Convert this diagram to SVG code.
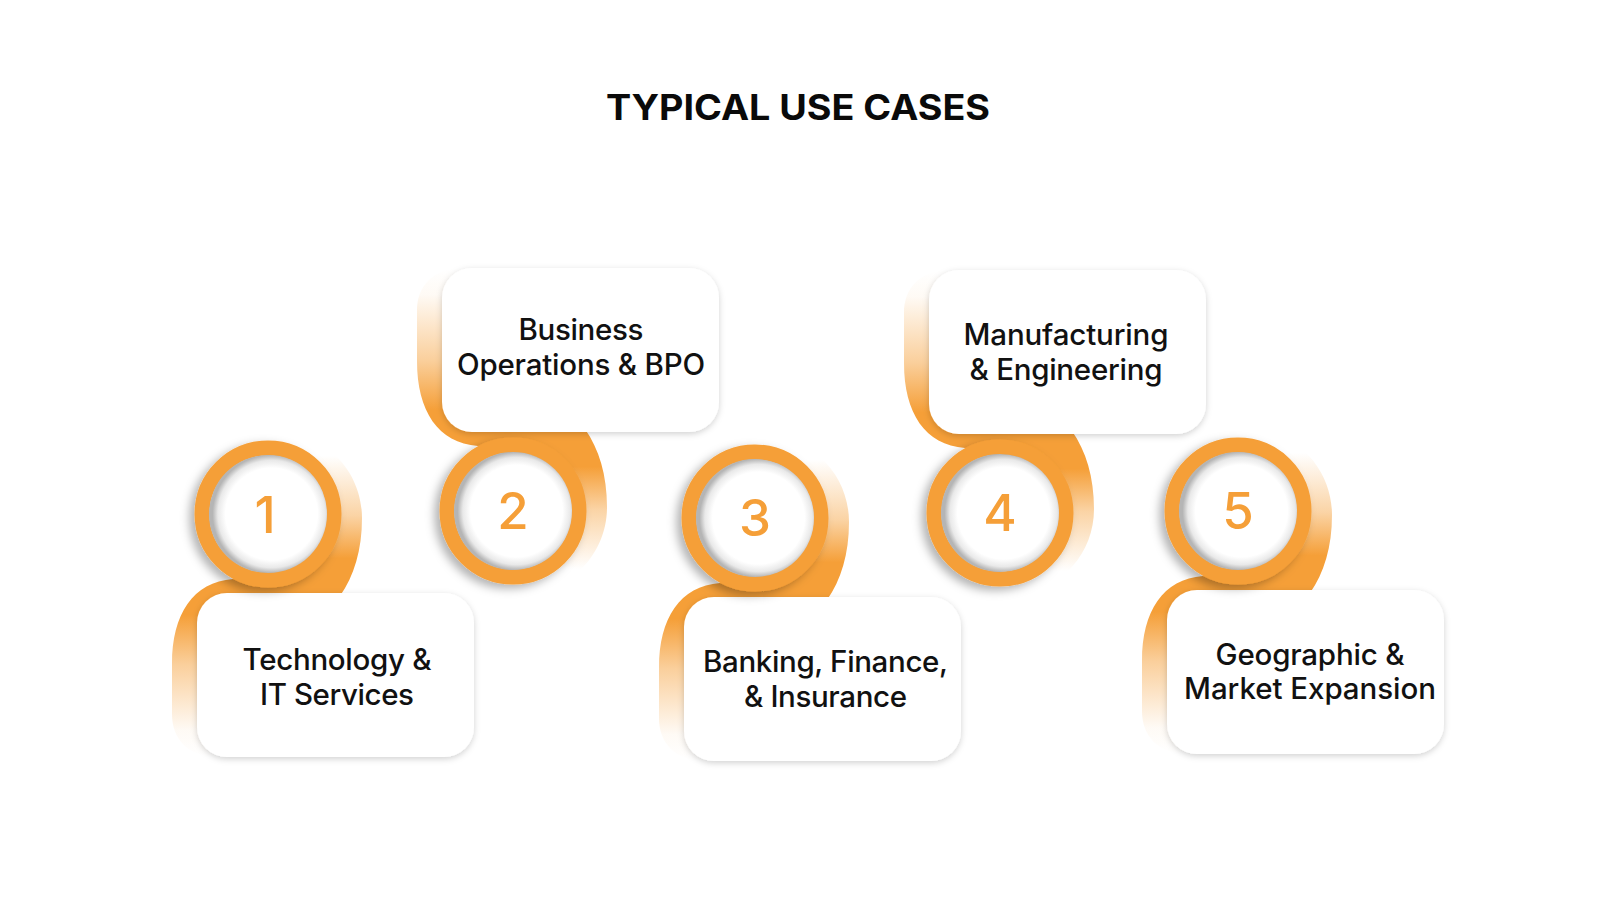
<svg xmlns="http://www.w3.org/2000/svg" width="1600" height="900" viewBox="0 0 1600 900">
<style>
.title{font-family:Inter,"Liberation Sans",sans-serif;font-weight:700;font-size:35px;fill:#0a0a0a}
.lbl{font-family:Inter,"Liberation Sans",sans-serif;font-weight:500;font-size:29.5px;fill:#111}
.num{font-family:Inter,"Liberation Sans",sans-serif;font-weight:500;font-size:51px;fill:#F59F38}
.card{fill:#fff;filter:url(#cardShadow)}
.ring{fill:none;stroke:#F59F38;stroke-width:15}
.inner{fill:url(#innerShade)}
.swoosh{fill:url(#swooshGrad)}
</style>
<defs>
<linearGradient id="swooshGrad" x1="0" y1="0" x2="0" y2="1">
<stop offset="0" stop-color="#F59F38" stop-opacity="0"/>
<stop offset="0.09" stop-color="#F59F38" stop-opacity="0"/>
<stop offset="0.27" stop-color="#F59F38" stop-opacity="0.45"/>
<stop offset="0.40" stop-color="#F59F38" stop-opacity="1"/>
<stop offset="0.57" stop-color="#F59F38" stop-opacity="1"/>
<stop offset="0.72" stop-color="#F59F38" stop-opacity="0.5"/>
<stop offset="0.92" stop-color="#F59F38" stop-opacity="0.05"/>
<stop offset="1" stop-color="#F59F38" stop-opacity="0"/>
</linearGradient>
<radialGradient id="innerShade" cx="0.53" cy="0.5" r="0.5">
<stop offset="0" stop-color="#fff"/>
<stop offset="0.78" stop-color="#fff"/>
<stop offset="0.91" stop-color="#e9e9e9"/>
<stop offset="1" stop-color="#b5b5b5"/>
</radialGradient>
<filter id="cardShadow" x="-20%" y="-20%" width="140%" height="140%">
<feDropShadow dx="0" dy="2" stdDeviation="3" flood-color="#000" flood-opacity="0.18"/>
</filter>
<filter id="ringShadow" x="-30%" y="-30%" width="160%" height="160%">
<feDropShadow dx="-5" dy="4" stdDeviation="5" flood-color="#000" flood-opacity="0.3"/>
</filter>
<path id="swooshShape" d="M -10,-88 C 50,-88 94,-48 94,4 C 94,36 86,62 72,82 L 72,230 L -50,243 C -80,243 -96,225 -96,200 L -96,150 C -96,100 -75,68 -35,65 L -10,64 Z"/>
</defs>

<text class="title" x="798" y="120" text-anchor="middle" textLength="384" lengthAdjust="spacingAndGlyphs">TYPICAL USE CASES</text>

<g id="node-1" transform="translate(268,514)">
<use href="#swooshShape" class="swoosh"/>
<rect class="card" x="-71" y="79" width="277" height="164" rx="30"/>
<g filter="url(#ringShadow)"><circle r="66" fill="#fff" class="ring"/></g>
<circle class="inner" r="59"/>
<text class="num" x="-3" y="19" text-anchor="middle">1</text>
<text class="lbl" text-anchor="middle"><tspan x="69" y="156" textLength="189">Technology &amp;</tspan><tspan x="69" y="191" textLength="154">IT Services</tspan></text>
</g>

<g id="node-2" transform="translate(513,511)">
<use href="#swooshShape" class="swoosh" transform="scale(1,-1)"/>
<rect class="card" x="-71" y="-243" width="277" height="164" rx="30"/>
<g filter="url(#ringShadow)"><circle r="66" fill="#fff" class="ring"/></g>
<circle class="inner" r="59"/>
<text class="num" x="0" y="18" text-anchor="middle">2</text>
<text class="lbl" text-anchor="middle"><tspan x="68" y="-171" textLength="125">Business</tspan><tspan x="68" y="-136" textLength="248">Operations &amp; BPO</tspan></text>
</g>

<g id="node-3" transform="translate(755,518)">
<use href="#swooshShape" class="swoosh"/>
<rect class="card" x="-71" y="79" width="277" height="164" rx="30"/>
<g filter="url(#ringShadow)"><circle r="66" fill="#fff" class="ring"/></g>
<circle class="inner" r="59"/>
<text class="num" x="0" y="18" text-anchor="middle">3</text>
<text class="lbl" text-anchor="middle"><tspan x="70.5" y="154" textLength="245">Banking, Finance,</tspan><tspan x="70.5" y="189" textLength="163">&amp; Insurance</tspan></text>
</g>

<g id="node-4" transform="translate(1000,513)">
<use href="#swooshShape" class="swoosh" transform="scale(1,-1)"/>
<rect class="card" x="-71" y="-243" width="277" height="164" rx="30"/>
<g filter="url(#ringShadow)"><circle r="66" fill="#fff" class="ring"/></g>
<circle class="inner" r="59"/>
<text class="num" x="0" y="18" text-anchor="middle">4</text>
<text class="lbl" text-anchor="middle"><tspan x="66" y="-168" textLength="205">Manufacturing</tspan><tspan x="66" y="-133" textLength="193">&amp; Engineering</tspan></text>
</g>

<g id="node-5" transform="translate(1238,511)">
<use href="#swooshShape" class="swoosh"/>
<rect class="card" x="-71" y="79" width="277" height="164" rx="30"/>
<g filter="url(#ringShadow)"><circle r="66" fill="#fff" class="ring"/></g>
<circle class="inner" r="59"/>
<text class="num" x="0" y="18" text-anchor="middle">5</text>
<text class="lbl" text-anchor="middle"><tspan x="72" y="154" textLength="189">Geographic &amp;</tspan><tspan x="72" y="188" textLength="252">Market Expansion</tspan></text>
</g>
</svg>
